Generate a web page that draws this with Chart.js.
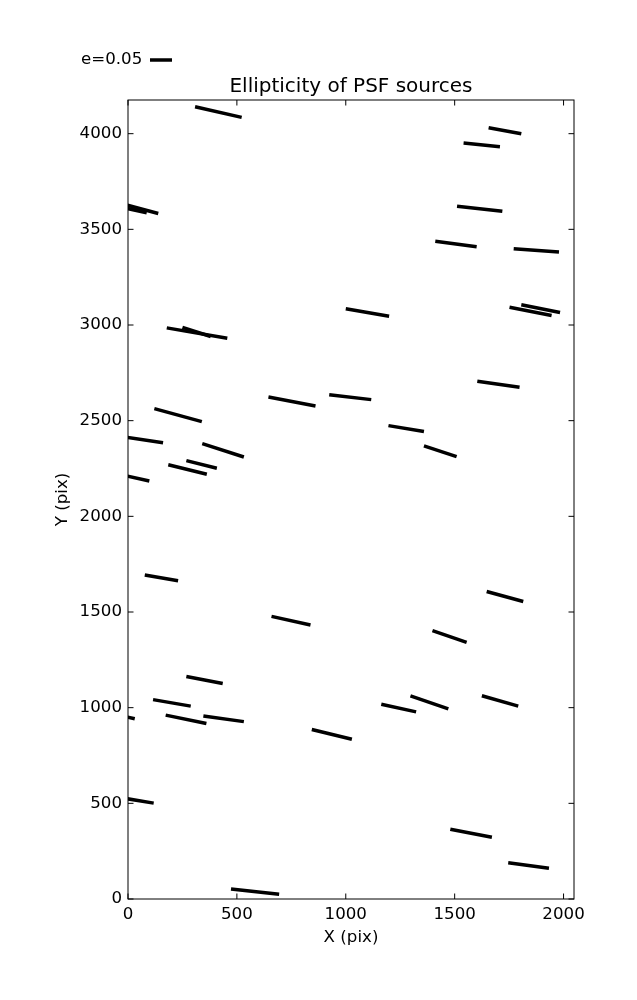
<!DOCTYPE html>
<html>
<head>
<meta charset="utf-8">
<script src="https://cdn.jsdelivr.net/npm/chart.js@4"></script>
<style>
  body { margin: 0; background: #fff; }
  #wrap { width: 637px; height: 1000px; }
</style>
</head>
<body>
<div id="wrap"><canvas id="myChart" width="637" height="1000"></canvas></div>
<script>
// segment endpoints (detector pixels), one entry per PSF source
const x1 = [308, 1656, 1541, -20, -20, 1511, 1411, 1771, 1000, 178, 250, 1806, 1752, 645, 924, 1604, 121, -20, 1196, 341,
            1359, 268, 185, -20, 77, 1647, 659, 1398, 268, 115, 1297, 1163, 1625, -20, 173, 346, 844, -20, 1480, 1746, 473];
const y1 = [4141, 4031, 3951, 3631, 3613, 3621, 3438, 3398, 3085, 2985, 2988, 3106, 3093, 2624, 2635, 2706, 2563, 2416, 2474, 2380,
            2368, 2291, 2270, 2214, 1693, 1607, 1477, 1403, 1163, 1042, 1062, 1018, 1062, 955, 961, 957, 886, 527, 365, 190, 52];
const x2 = [522, 1806, 1708, 139, 86, 1719, 1601, 1979, 1199, 456, 380, 1984, 1945, 861, 1117, 1798, 339, 161, 1359, 532,
            1509, 408, 362, 98, 230, 1815, 838, 1555, 435, 288, 1471, 1323, 1792, 31, 360, 532, 1028, 118, 1671, 1933, 694];
const y2 = [4085, 4000, 3932, 3583, 3587, 3594, 3409, 3381, 3046, 2931, 2940, 3065, 3050, 2577, 2610, 2675, 2495, 2385, 2443, 2310,
            2312, 2251, 2220, 2185, 1663, 1555, 1432, 1341, 1126, 1008, 994, 978, 1008, 942, 917, 927, 835, 501, 323, 161, 25];

const X_TICKS = [0, 500, 1000, 1500, 2000];
const Y_TICKS = [0, 500, 1000, 1500, 2000, 2500, 3000, 3500, 4000];
const X_MAX = 2048;
const Y_MAX = 4176;

const KEY_E = 0.05;
const PIX_PER_E = 2020; // segment length in pix for e = 1

const FONT = 'DejaVu Sans';
const LINE_W = 3.5;

const datasets = x1.map((_, i) => ({
    data: [{x: x1[i], y: y1[i]}, {x: x2[i], y: y2[i]}],
    borderColor: '#000',
    borderWidth: LINE_W,
    borderCapStyle: 'butt',
    pointRadius: 0,
    pointHoverRadius: 0,
    clip: 0,
}));

// frame, inward ticks on four sides, and the e=0.05 key
const framePlugin = {
    id: 'frame',
    afterDraw(chart) {
        const {ctx, chartArea: a, scales} = chart;
        const tl = 5.5;
        ctx.save();
        ctx.strokeStyle = '#000';
        ctx.lineWidth = 1;
        ctx.strokeRect(a.left, a.top, a.right - a.left, a.bottom - a.top);
        ctx.beginPath();
        X_TICKS.forEach(v => {
            const px = scales.x.getPixelForValue(v);
            ctx.moveTo(px, a.bottom); ctx.lineTo(px, a.bottom - tl);
            ctx.moveTo(px, a.top); ctx.lineTo(px, a.top + tl);
        });
        Y_TICKS.forEach(v => {
            const py = scales.y.getPixelForValue(v);
            ctx.moveTo(a.left, py); ctx.lineTo(a.left + tl, py);
            ctx.moveTo(a.right, py); ctx.lineTo(a.right - tl, py);
        });
        ctx.stroke();

        // key
        const keyLen = scales.x.getPixelForValue(KEY_E * PIX_PER_E) - scales.x.getPixelForValue(0);
        ctx.fillStyle = '#000';
        ctx.font = '16.67px "' + FONT + '"';
        ctx.textAlign = 'left';
        ctx.textBaseline = 'middle';
        ctx.fillText('e=' + KEY_E.toFixed(2), 81, 60);
        ctx.lineWidth = LINE_W;
        ctx.lineCap = 'butt';
        ctx.beginPath();
        ctx.moveTo(150, 60);
        ctx.lineTo(150 + keyLen, 60);
        ctx.stroke();
        ctx.restore();
    }
};

const tickFont = {family: FONT, size: 16.67};
const plainLabel = v => String(v);

const config = {
    type: 'line',
    data: {datasets: datasets},
    options: {
        responsive: false,
        animation: false,
        events: [],
        layout: {padding: {top: 0, right: 63, bottom: 0, left: 0}},
        scales: {
            x: {
                type: 'linear',
                min: 0,
                max: X_MAX,
                afterBuildTicks: s => { s.ticks = X_TICKS.map(v => ({value: v})); },
                afterFit: s => { s.height = 101; },
                grid: {display: false, drawTicks: false},
                border: {display: false},
                ticks: {color: '#000', font: tickFont, padding: 6, maxRotation: 0, callback: plainLabel},
                title: {display: true, text: 'X (pix)', color: '#000', font: tickFont, padding: 52},
            },
            y: {
                type: 'linear',
                min: 0,
                max: Y_MAX,
                afterBuildTicks: s => { s.ticks = Y_TICKS.map(v => ({value: v})); },
                afterFit: s => { s.width = 128; },
                grid: {display: false, drawTicks: false},
                border: {display: false},
                ticks: {color: '#000', font: tickFont, padding: 6, callback: plainLabel},
                title: {display: true, text: 'Y (pix)', color: '#000', font: tickFont, padding: 53},
            }
        },
        plugins: {
            legend: {display: false},
            tooltip: {enabled: false},
            title: {
                display: true,
                text: 'Ellipticity of PSF sources',
                color: '#000',
                fullSize: false,
                font: {family: FONT, size: 20, weight: 'normal', lineHeight: 1.2},
                padding: {top: 75, bottom: 1},
            }
        }
    },
    plugins: [framePlugin]
};

const ctx = document.getElementById('myChart').getContext('2d');
new Chart(ctx, config);
</script>
</body>
</html>
